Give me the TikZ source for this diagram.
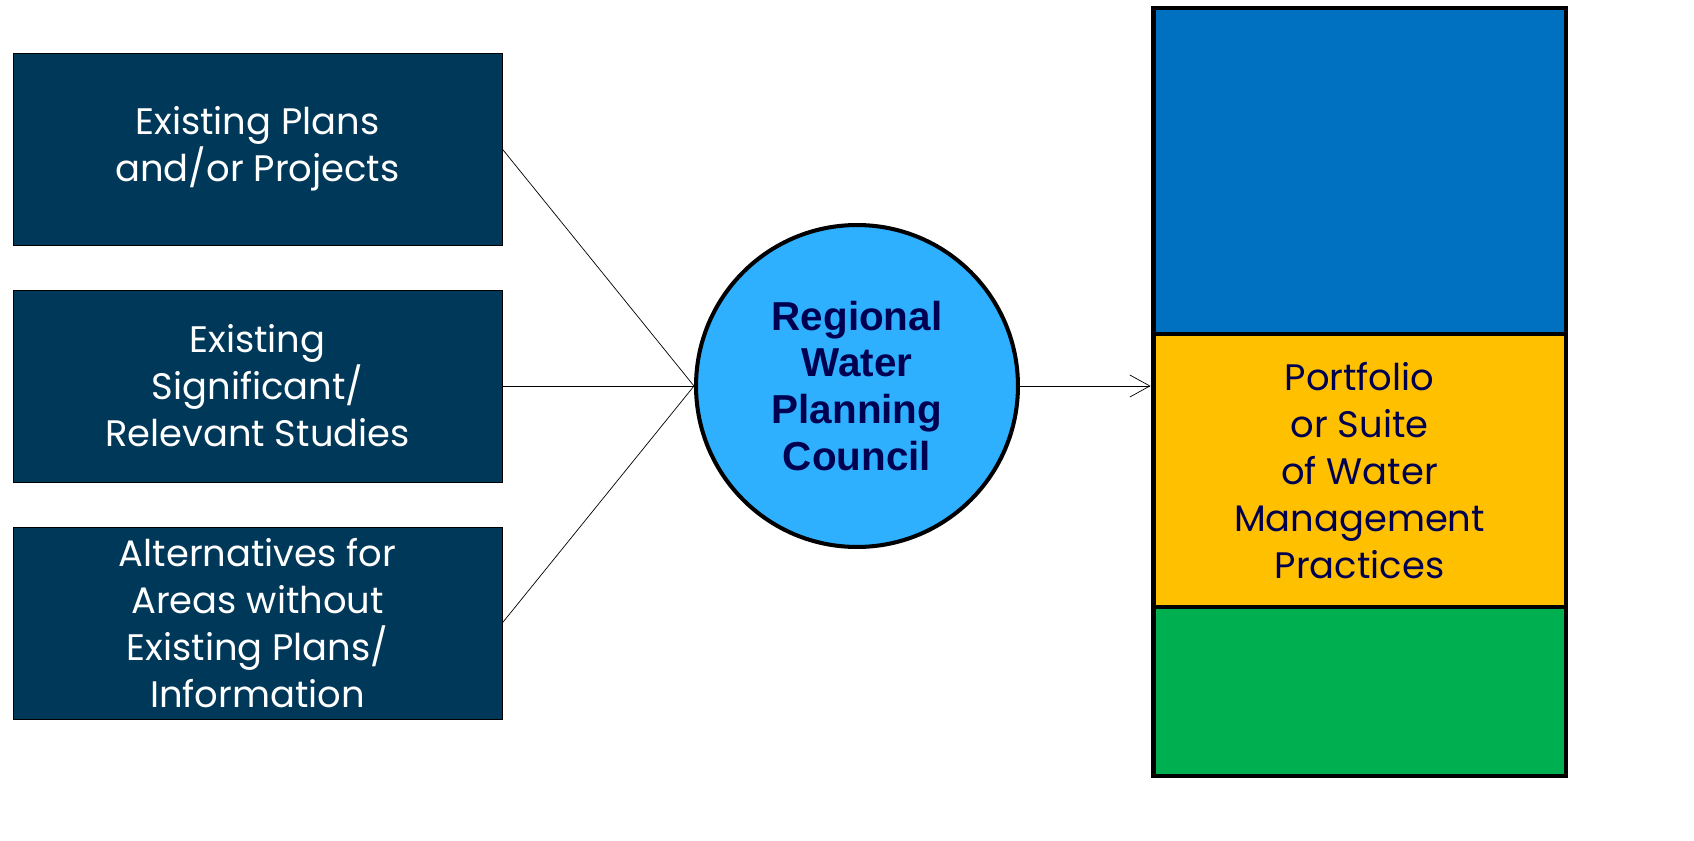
\documentclass[tikz,border=0pt]{standalone}
\usepackage{fontspec}
\setmainfont{Poppins}
\newfontfamily\councilfont{Liberation Sans}
\usetikzlibrary{arrows.meta}
\definecolor{boxnavy}{RGB}{0,56,89}
\definecolor{councilblue}{RGB}{46,176,255}
\definecolor{councilink}{RGB}{0,0,80}
\definecolor{topblue}{RGB}{0,112,192}
\definecolor{midgold}{RGB}{255,192,0}
\definecolor{lowgreen}{RGB}{0,176,80}
\begin{document}
\begin{tikzpicture}[x=0.02cm,y=-0.02cm,
  inbox/.style={draw=black,fill=boxnavy,text=white,minimum width=9.78cm,minimum height=3.84cm,
    inner sep=0pt,align=center,font=\fontsize{21}{26.7}\selectfont},
  band/.style={draw=black,line width=2.8pt,minimum width=8.26cm,inner sep=0pt,align=center,
    text=councilink,font=\fontsize{21}{26.7}\selectfont}]
\useasboundingbox (0,0) rectangle (1694,841);
\node[inbox] (plans) at (257.5,149) {Existing Plans\\and/or Projects};
\node[inbox] (studies) at (257.5,386) {Existing\\Significant/\\Relevant Studies};
\node[inbox] (alts) at (257.5,623) {Alternatives for\\Areas without\\Existing Plans/\\Information};
\node[circle,draw=black,line width=2.3pt,fill=councilblue,minimum size=6.44cm,inner sep=0pt,align=center,
  text=councilink,font=\councilfont\bfseries\fontsize{23}{26.7}\selectfont] (council) at (857,386)
  {Regional\\Water\\Planning\\Council};
\node[band,fill=topblue,minimum height=6.52cm] (top) at (1359.5,171) {};
\node[band,fill=midgold,minimum height=5.46cm] (mid) at (1359.5,470.5) {Portfolio\\ or Suite\\of Water\\Management\\Practices};
\node[band,fill=lowgreen,minimum height=3.38cm] (low) at (1359.5,691.5) {};
\draw (plans.east) -- (council.west);
\draw (studies.east) -- (council.west);
\draw (alts.east) -- (council.west);
\draw[-{Straight Barb[length=0.4cm,width=0.44cm]}] (council.east) -- (council.east -| mid.west);
\end{tikzpicture}
\end{document}
